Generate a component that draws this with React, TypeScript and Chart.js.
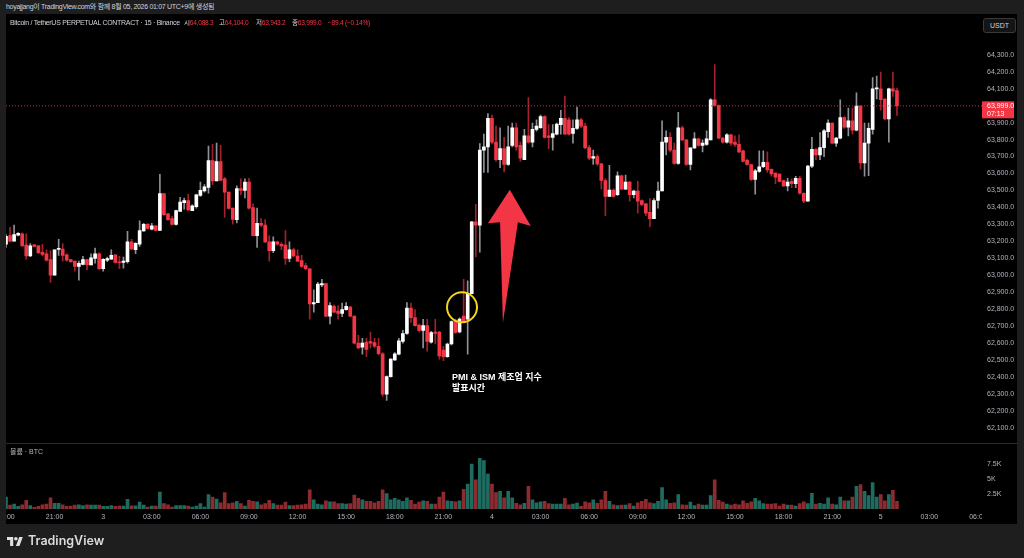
import React, { useEffect, useRef } from 'react';
import { Chart, registerables } from 'chart.js';
Chart.register(...registerables);

// ---- data (15-minute candles, BTCUSDT perpetual, from day 2 18:00 to day 5 01:00) ----
const opens = [63183,63234,63202,63236,63245,63178,63114,63180,63174,63136,63127,63093,63001,63153,63155,63121,63093,63084,63052,63065,63093,63061,63099,63127,63039,63089,63095,63121,63080,63076,63080,63197,63151,63183,63262,63302,63272,63292,63264,63482,63362,63334,63300,63377,63428,63441,63381,63405,63471,63497,63518,63676,63556,63670,63569,63490,63396,63328,63512,63501,63550,63400,63234,63306,63296,63197,63146,63197,63183,63178,63099,63151,63114,63087,63057,63039,62832,62839,62943,62952,62760,62817,62789,62775,62798,62813,62760,62600,62576,62606,62610,62604,62582,62538,62300,62403,62501,62535,62610,62657,62807,62751,62707,62676,62704,62606,62666,62666,62560,62520,62595,62732,62666,62760,62742,62892,63315,63296,63738,63757,63926,63785,63682,63747,63653,63766,63870,63766,63681,63822,63785,63860,63870,63935,63822,63813,63832,63888,63926,63916,63836,63866,63916,63879,63753,63691,63700,63657,63559,63465,63503,63475,63587,63508,63550,63475,63497,63441,63422,63371,63334,63441,63497,63785,63813,63738,63659,63869,63798,63653,63751,63804,63766,63772,63798,64035,64001,63809,63785,63828,63785,63772,63734,63678,63653,63565,63612,63640,63666,63625,63602,63597,63559,63527,63554,63540,63572,63484,63437,63644,63742,63710,63753,63847,63898,63779,63809,63930,63873,63911,63855,63997,63663,63779,63860,64099,64099,64039,63922,64099,64088.3];
const highs = [63240,63283,63296,63252,63250,63245,63187,63183,63176,63183,63151,63146,63151,63212,63187,63127,63095,63084,63084,63112,63093,63127,63161,63133,63099,63108,63151,63121,63112,63108,63259,63212,63193,63321,63306,63302,63306,63292,63595,63482,63366,63347,63385,63460,63456,63479,63415,63479,63550,63535,63762,63772,63779,63766,63578,63490,63396,63527,63569,63569,63572,63422,63396,63334,63328,63234,63227,63202,63193,63264,63197,63159,63151,63118,63071,63039,62915,62958,62977,62952,62840,62826,62821,62836,62840,62817,62762,62647,62628,62628,62666,62628,62628,62544,62407,62510,62544,62628,62676,62839,62836,62798,62713,62741,62741,62670,62741,62670,62581,62600,62732,62742,62750,62976,62967,63318,63418,63776,63832,63954,63945,63879,63870,63813,63879,63898,63898,63785,63860,64048,63898,63916,63945,63941,63888,63888,63898,63973,64057,63930,63916,63992,63926,63898,63766,63738,63710,63660,63570,63648,63510,63610,63591,63591,63554,63503,63554,63445,63425,63452,63452,63550,63911,63851,63841,63779,63960,63879,63800,63751,63841,63809,63798,63851,64042,64242,64005,63813,63836,63832,63822,63828,63738,63685,63655,63625,63734,63734,63728,63628,63604,63600,63562,63572,63569,63584,63584,63486,63648,63813,63747,63841,63860,63916,63898,63813,64035,63935,63986,63986,64076,64001,63898,63898,64166,64174,64198,64042,64104,64198,64104];
const lows = [63165,63197,63202,63232,63172,63095,63110,63168,63127,63114,63084,62958,63001,63118,63084,63084,63076,63024,62971,63061,63033,63061,63071,63033,63024,63080,63095,63071,63039,63042,63071,63151,63127,63170,63259,63272,63268,63262,63264,63353,63324,63296,63296,63377,63390,63381,63381,63396,63465,63490,63484,63535,63556,63559,63343,63390,63302,63309,63475,63456,63390,63234,63165,63287,63193,63084,63133,63178,63151,63065,63080,63108,63080,63046,63033,62742,62783,62839,62933,62757,62713,62779,62742,62757,62794,62757,62596,62568,62535,62520,62572,62572,62531,62287,62262,62400,62497,62531,62600,62651,62723,62700,62666,62572,62553,62600,62595,62506,62497,62516,62590,62657,62660,62725,62535,62892,63108,63136,63606,63606,63775,63672,63634,63610,63648,63757,63738,63672,63681,63779,63757,63850,63866,63809,63747,63738,63828,63832,63832,63826,63779,63860,63870,63745,63681,63653,63648,63510,63352,63465,63460,63470,63503,63505,63437,63456,63366,63410,63352,63287,63334,63396,63497,63710,63728,63653,63653,63794,63648,63621,63747,63760,63728,63766,63798,63997,63804,63779,63779,63766,63760,63723,63668,63648,63559,63478,63606,63634,63606,63584,63540,63550,63522,63497,63516,63516,63479,63428,63437,63634,63681,63681,63700,63813,63775,63760,63804,63866,63822,63832,63851,63625,63584,63587,63832,64039,63973,63916,63785,64054,63943.2];
const closes = [63230,63202,63240,63247,63174,63114,63174,63170,63133,63123,63089,63001,63151,63155,63118,63089,63080,63052,63071,63093,63061,63103,63127,63039,63095,63099,63118,63076,63074,63084,63197,63155,63189,63264,63300,63277,63292,63264,63482,63358,63328,63300,63381,63432,63441,63385,63409,63475,63501,63522,63676,63556,63670,63559,63490,63394,63330,63512,63501,63550,63396,63234,63306,63296,63197,63146,63197,63183,63174,63099,63151,63114,63084,63052,63039,62832,62839,62948,62952,62760,62821,62783,62776,62798,62817,62760,62600,62572,62600,62563,62600,62582,62538,62300,62403,62506,62538,62614,62657,62807,62751,62704,62676,62704,62610,62662,62657,62525,62520,62595,62727,62663,62742,62732,62892,63315,63296,63738,63757,63926,63785,63682,63747,63653,63757,63870,63757,63691,63822,63785,63860,63879,63935,63813,63813,63836,63892,63926,63832,63832,63866,63916,63879,63753,63691,63700,63657,63559,63465,63503,63465,63587,63508,63550,63475,63497,63437,63418,63366,63334,63441,63497,63785,63813,63738,63659,63869,63798,63653,63751,63804,63766,63779,63804,64035,64001,63809,63785,63828,63779,63772,63728,63672,63653,63565,63616,63640,63666,63621,63597,63578,63554,63527,63550,63540,63572,63484,63437,63644,63742,63710,63753,63851,63898,63779,63809,63930,63873,63911,63855,63997,63663,63779,63866,64099,64103,64035,63922,64099,64085,63999.0];
const volumes = [2000,666,810,430,714,1430,570,285,430,714,810,1856,950,950,714,430,476,666,714,570,714,666,666,666,430,430,570,430,476,476,1620,520,520,1140,666,333,476,476,2808,904,714,333,570,570,570,476,333,476,904,333,2380,2000,1666,1047,2713,904,1047,1285,904,476,1428,1285,1190,714,904,1428,904,666,666,1140,570,570,666,714,810,3190,1523,810,714,1380,1190,1190,904,904,810,904,2332,1760,1523,1285,1285,1047,1285,3190,2570,1523,1760,1523,1285,1856,1428,810,1140,1380,1285,810,810,2000,2808,1380,1285,1190,1380,3284,4140,7473,4855,8425,8044,5807,4141,2713,2951,1856,2951,1856,950,714,950,3760,1523,1047,1190,1285,904,810,810,810,1760,714,810,1000,430,1190,1047,1523,950,1523,2951,1285,714,570,666,666,904,476,1047,1285,1618,1047,904,1285,3570,1523,950,1047,2380,714,666,1140,570,810,666,666,2237,4855,1428,1140,810,666,810,714,1380,950,1190,1760,1380,904,810,810,904,476,810,666,666,476,904,1190,904,2618,810,950,810,1856,810,714,2000,1380,1380,2000,3760,4046,2951,2237,4379,2000,2380,1380,2380,3094,1285];

const priceTicks = [62100,62200,62300,62400,62500,62600,62700,62800,62900,63000,63100,63200,63300,63400,63500,63600,63700,63800,63900,64000,64100,64200,64300];
const volumeTicks = [2500, 5000, 7500];
const volumeTickLabels = ['2.5K', '5K', '7.5K'];
const timeTickIndex = [0,12,24,36,48,60,72,84,96,108,120,132,144,156,168,180,192,204,216,228,240];
const timeTickLabels = ['18:00','21:00','3','03:00','06:00','09:00','12:00','15:00','18:00','21:00','4','03:00','06:00','09:00','12:00','15:00','18:00','21:00','5','03:00','06:00'];
const lastPrice = 63999.0;
const countdown = '07:13';
const legendChange = '−89.4 (−0.14%)';

// annotation anchors in data space (candle index, price)
const circleAnchor = { x: 112.6, y: 62812 };
const arrowIdx = [124.4, 129.6, 126.4, 122.7, 122.0, 119.0];
const arrowPrice = [63505, 63290, 63313, 62721, 63313, 63307];

// ---- view ----
const X_MIN = 0;
const X_MAX = 241;
const Y_MIN = 62066;
const Y_MAX = 64486;
const VOL_MAX = 9290;
const FONT = '"Liberation Sans", "Noto Sans CJK KR", Arial, sans-serif';
const TICK_COLOR = '#b2b5be';
const UP = '#ffffff';
const DOWN = '#f23645';
const UP_WICK = '#8f9199';
const DOWN_WICK = '#a3202d';
const VOL_UP = '#1f6b60';
const VOL_DOWN = '#8e2b2f';

const fmtPrice = (v: number) =>
  v.toLocaleString('en-US', { minimumFractionDigits: 1, maximumFractionDigits: 1 });

export default function App() {
  const mainRef = useRef<HTMLCanvasElement | null>(null);
  const volRef = useRef<HTMLCanvasElement | null>(null);

  useEffect(() => {
    const idx = opens.map((_, i) => i);
    const up = closes.map((c, i) => c >= opens[i]);

    const overlay = {
      id: 'overlay',
      afterDatasetsDraw(chart: any) {
        const { ctx, scales } = chart;
        const xs = scales.x;
        const ys = scales.y;
        ctx.save();
        ctx.beginPath();
        arrowIdx.forEach((v, k) => {
          const px = xs.getPixelForValue(v);
          const py = ys.getPixelForValue(arrowPrice[k]);
          if (k === 0) ctx.moveTo(px, py);
          else ctx.lineTo(px, py);
        });
        ctx.closePath();
        ctx.fillStyle = '#f23645';
        ctx.fill();
        ctx.beginPath();
        ctx.arc(xs.getPixelForValue(circleAnchor.x), ys.getPixelForValue(circleAnchor.y), 15, 0, Math.PI * 2);
        ctx.strokeStyle = '#f2d817';
        ctx.lineWidth = 2;
        ctx.stroke();
        ctx.restore();
      },
      afterDraw(chart: any) {
        const { ctx, chartArea, scales } = chart;
        const py = scales.y.getPixelForValue(lastPrice);
        ctx.save();
        ctx.fillStyle = '#f23645';
        ctx.fillRect(chartArea.right, py - 4.5, 32, 17);
        ctx.fillStyle = '#ffffff';
        ctx.font = `7px ${FONT}`;
        ctx.textBaseline = 'middle';
        ctx.textAlign = 'left';
        ctx.fillText(fmtPrice(lastPrice), chartArea.right + 5, py);
        ctx.fillText(countdown, chartArea.right + 5, py + 8);
        ctx.restore();
      },
    };

    const main = new Chart(mainRef.current as HTMLCanvasElement, {
      type: 'bar',
      data: {
        datasets: [
          {
            type: 'bar',
            data: idx.map((i) => ({ x: i, y: [lows[i], highs[i]] })) as any,
            backgroundColor: up.map((u) => (u ? UP_WICK : DOWN_WICK)),
            barThickness: 1,
            grouped: false,
            order: 3,
            clip: 0,
          } as any,
          {
            type: 'bar',
            data: idx.map((i) => ({ x: i, y: [opens[i], closes[i]] })) as any,
            backgroundColor: up.map((u) => (u ? UP : DOWN)),
            barThickness: 3,
            minBarLength: 1,
            grouped: false,
            order: 2,
            clip: 0,
          } as any,
          {
            type: 'line',
            data: [
              { x: X_MIN, y: lastPrice },
              { x: X_MAX, y: lastPrice },
            ],
            borderColor: 'rgba(242,54,69,0.85)',
            borderWidth: 1,
            borderDash: [1, 2],
            pointRadius: 0,
            order: 1,
          } as any,
        ],
      },
      options: {
        responsive: false,
        animation: false,
        layout: { padding: 0 },
        plugins: { legend: { display: false }, tooltip: { enabled: false } },
        scales: {
          x: { type: 'linear', min: X_MIN, max: X_MAX, offset: false, display: false },
          y: {
            type: 'linear',
            position: 'right',
            min: Y_MIN,
            max: Y_MAX,
            grid: { display: false, drawTicks: false },
            border: { display: false },
            afterFit: (s: any) => {
              s.width = 35;
            },
            afterBuildTicks: (s: any) => {
              s.ticks = priceTicks.map((v) => ({ value: v }));
            },
            ticks: {
              padding: 5,
              color: TICK_COLOR,
              font: { size: 7, family: FONT },
              callback: (v: any) => fmtPrice(Number(v)),
            },
          },
        },
      } as any,
      plugins: [overlay],
    });

    const volClip = {
      id: 'volClip',
      afterDraw(chart: any) {
        const { ctx, chartArea, width, height } = chart;
        ctx.save();
        ctx.fillStyle = '#000000';
        ctx.fillRect(chartArea.right, chartArea.bottom, width - chartArea.right, height - chartArea.bottom);
        ctx.restore();
      },
    };

    const vol = new Chart(volRef.current as HTMLCanvasElement, {
      type: 'bar',
      data: {
        datasets: [
          {
            data: idx.map((i) => ({ x: i, y: volumes[i] })) as any,
            backgroundColor: up.map((u) => (u ? VOL_UP : VOL_DOWN)),
            barThickness: 3,
            grouped: false,
            clip: 0,
          } as any,
        ],
      },
      options: {
        responsive: false,
        animation: false,
        layout: { padding: 0 },
        plugins: { legend: { display: false }, tooltip: { enabled: false } },
        scales: {
          x: {
            type: 'linear',
            min: X_MIN,
            max: X_MAX,
            offset: false,
            grid: { display: false, drawTicks: false },
            border: { display: false },
            afterFit: (s: any) => {
              s.height = 15;
              s.paddingLeft = 0;
              s.paddingRight = 0;
            },
            afterBuildTicks: (s: any) => {
              s.ticks = timeTickIndex.map((v) => ({ value: v }));
            },
            ticks: {
              autoSkip: false,
              maxRotation: 0,
              minRotation: 0,
              padding: 4,
              color: TICK_COLOR,
              font: { size: 7, family: FONT },
              callback: (_v: any, i: number) => timeTickLabels[i],
            },
          },
          y: {
            type: 'linear',
            position: 'right',
            min: 0,
            max: VOL_MAX,
            grid: { display: false, drawTicks: false },
            border: { display: false },
            afterFit: (s: any) => {
              s.width = 35;
            },
            afterBuildTicks: (s: any) => {
              s.ticks = volumeTicks.map((v) => ({ value: v }));
            },
            ticks: {
              padding: 5,
              color: TICK_COLOR,
              font: { size: 7, family: FONT },
              callback: (_v: any, i: number) => volumeTickLabels[i],
            },
          },
        },
      } as any,
      plugins: [volClip],
    });

    return () => {
      main.destroy();
      vol.destroy();
    };
  }, []);

  const abs = (s: React.CSSProperties): React.CSSProperties => ({ position: 'absolute', ...s });
  const n = opens.length - 1;
  const red = { color: '#f23645' };
  const legendText: React.CSSProperties = {
    fontSize: 6.6,
    letterSpacing: -0.25,
    lineHeight: '10px',
    color: '#d1d4dc',
    whiteSpace: 'nowrap',
    top: 18,
  };

  return (
    <div
      style={{
        position: 'fixed',
        left: 0,
        top: 0,
        width: 1024,
        height: 558,
        background: '#1e1e1e',
        overflow: 'hidden',
        fontFamily: FONT,
      }}
    >
      <div style={abs({ left: 6, top: 14, width: 1011, height: 510, background: '#000' })} />
      <canvas ref={mainRef} width={1011} height={429} style={abs({ left: 6, top: 14, width: 1011, height: 429 })} />
      <div style={abs({ left: 6, top: 443, width: 1011, height: 1, background: '#2b2b2b' })} />
      <canvas ref={volRef} width={1011} height={80} style={abs({ left: 6, top: 444, width: 1011, height: 80 })} />

      <div style={abs({ left: 6, top: 2, fontSize: 7, letterSpacing: -0.3, lineHeight: '10px', color: '#d1d4dc', whiteSpace: 'nowrap' })}>
        hoyajjang이 TradingView.com와 함께 8월 05, 2026 01:07 UTC+9에 생성됨
      </div>
      <div style={abs({ ...legendText, fontSize: 7, letterSpacing: -0.3, left: 10 })}>
        Bitcoin / TetherUS PERPETUAL CONTRACT · 15 · Binance
      </div>
      <div style={abs({ ...legendText, left: 184 })}>
        시<span style={red}>{fmtPrice(opens[n])}</span>
      </div>
      <div style={abs({ ...legendText, left: 219 })}>
        고<span style={red}>{fmtPrice(highs[n])}</span>
      </div>
      <div style={abs({ ...legendText, left: 256 })}>
        저<span style={red}>{fmtPrice(lows[n])}</span>
      </div>
      <div style={abs({ ...legendText, left: 292 })}>
        종<span style={red}>{fmtPrice(closes[n])}</span>
      </div>
      <div style={abs({ ...legendText, left: 328, ...red })}>{legendChange}</div>
      <div
        style={abs({
          left: 983,
          top: 18,
          width: 31,
          height: 13,
          border: '1px solid #3a3a3a',
          borderRadius: 3,
          background: '#141414',
          color: '#d1d4dc',
          fontSize: 7,
          lineHeight: '13px',
          textAlign: 'center',
        })}
      >
        USDT
      </div>
      <div style={abs({ left: 10, top: 447, fontSize: 7, lineHeight: '10px', color: TICK_COLOR, whiteSpace: 'nowrap' })}>
        볼륨 · BTC
      </div>
      <div
        style={abs({
          left: 452,
          top: 372,
          fontSize: 9,
          lineHeight: '11px',
          fontWeight: 700,
          color: '#ffffff',
          whiteSpace: 'nowrap',
        })}
      >
        PMI &amp; ISM 제조업 지수
        <br />
        발표시간
      </div>

      <svg style={abs({ left: 7, top: 536 })} width={16} height={10} viewBox="0 0 36 22">
        <path d="M14 22H7V9H0V2h14v20z" fill="#e0e0e0" />
        <circle cx="20" cy="6" r="4" fill="#e0e0e0" />
        <path d="M28 22h-8l7.5-20h8L28 22z" fill="#e0e0e0" />
      </svg>
      <div style={abs({ left: 28, top: 533, fontSize: 12.5, lineHeight: '16px', fontWeight: 600, color: '#dcdcdc', fontFamily: 'Inter, "Liberation Sans", sans-serif' })}>
        TradingView
      </div>
    </div>
  );
}
